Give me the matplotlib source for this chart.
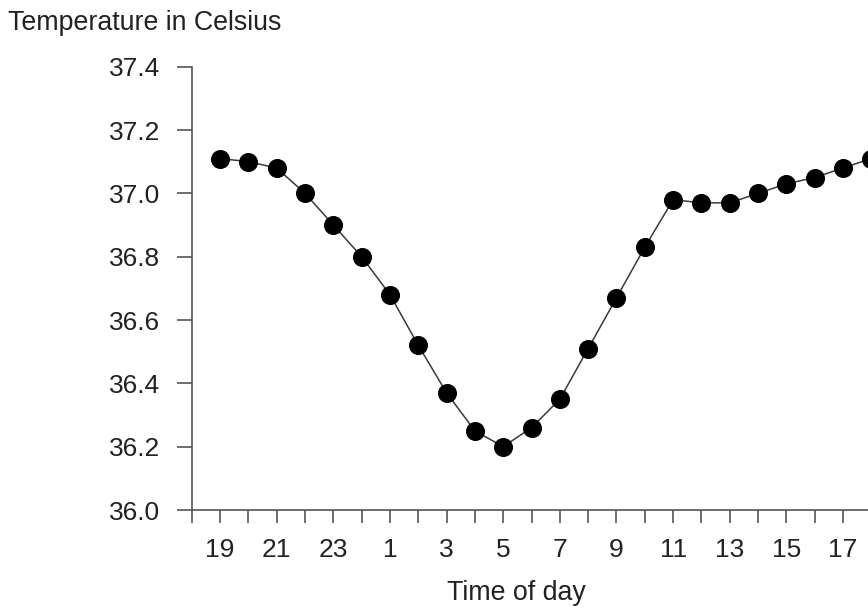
import matplotlib
matplotlib.use('Agg')
import matplotlib.pyplot as plt

# Data
hours = [19, 20, 21, 22, 23, 24, 1, 2, 3, 4, 5, 6, 7, 8, 9, 10, 11, 12, 13, 14, 15, 16, 17, 18]
temps = [37.11, 37.10, 37.08, 37.00, 36.90, 36.80, 36.68, 36.52, 36.37, 36.25, 36.20, 36.26,
         36.35, 36.51, 36.67, 36.83, 36.98, 36.97, 36.97, 37.00, 37.03, 37.05, 37.08, 37.11]
tick_labels = ['19', '', '21', '', '23', '', '1', '', '3', '', '5', '', '7', '', '9', '',
               '11', '', '13', '', '15', '', '17', '']
y_ticks = [36.0, 36.2, 36.4, 36.6, 36.8, 37.0, 37.2, 37.4]

plt.rcParams['font.family'] = ['Liberation Sans', 'DejaVu Sans']

fig = plt.figure(figsize=(8.68, 6.10), dpi=100)
ax = fig.add_axes([0.2209, 0.1639, 0.796, 0.7268])

xs = list(range(len(hours)))
ax.plot(xs, temps, color='#3a3a3a', linewidth=1.1, marker='o', markersize=12.7,
        markerfacecolor='black', markeredgecolor='black', clip_on=False, zorder=3)

ax.set_xlim(-1, 23.4)
ax.set_ylim(36.0, 37.4)

ax.set_xticks([-1] + xs)
ax.set_xticklabels([''] + tick_labels)
ax.set_yticks(y_ticks)
ax.set_yticklabels([f"{v:.1f}" for v in y_ticks])

for side in ['top', 'right']:
    ax.spines[side].set_visible(False)
for side in ['left', 'bottom']:
    ax.spines[side].set_color('#555555')
    ax.spines[side].set_linewidth(1.2)

ax.tick_params(axis='x', direction='out', length=9.4, width=1.2, color='#555555',
               pad=11, labelsize=19, labelcolor='#222222')
ax.tick_params(axis='y', direction='out', length=11, width=1.2, color='#555555',
               pad=11.5, labelsize=19, labelcolor='#222222')

fig.text(8 / 868, 1 - 30 / 610, 'Temperature in Celsius', fontsize=19.3,
         color='#222222', ha='left', va='baseline')
fig.text(516 / 868, 1 - 600 / 610, 'Time of day', fontsize=19.3,
         color='#222222', ha='center', va='baseline')

fig.savefig('out.png', dpi=100, facecolor='white')
